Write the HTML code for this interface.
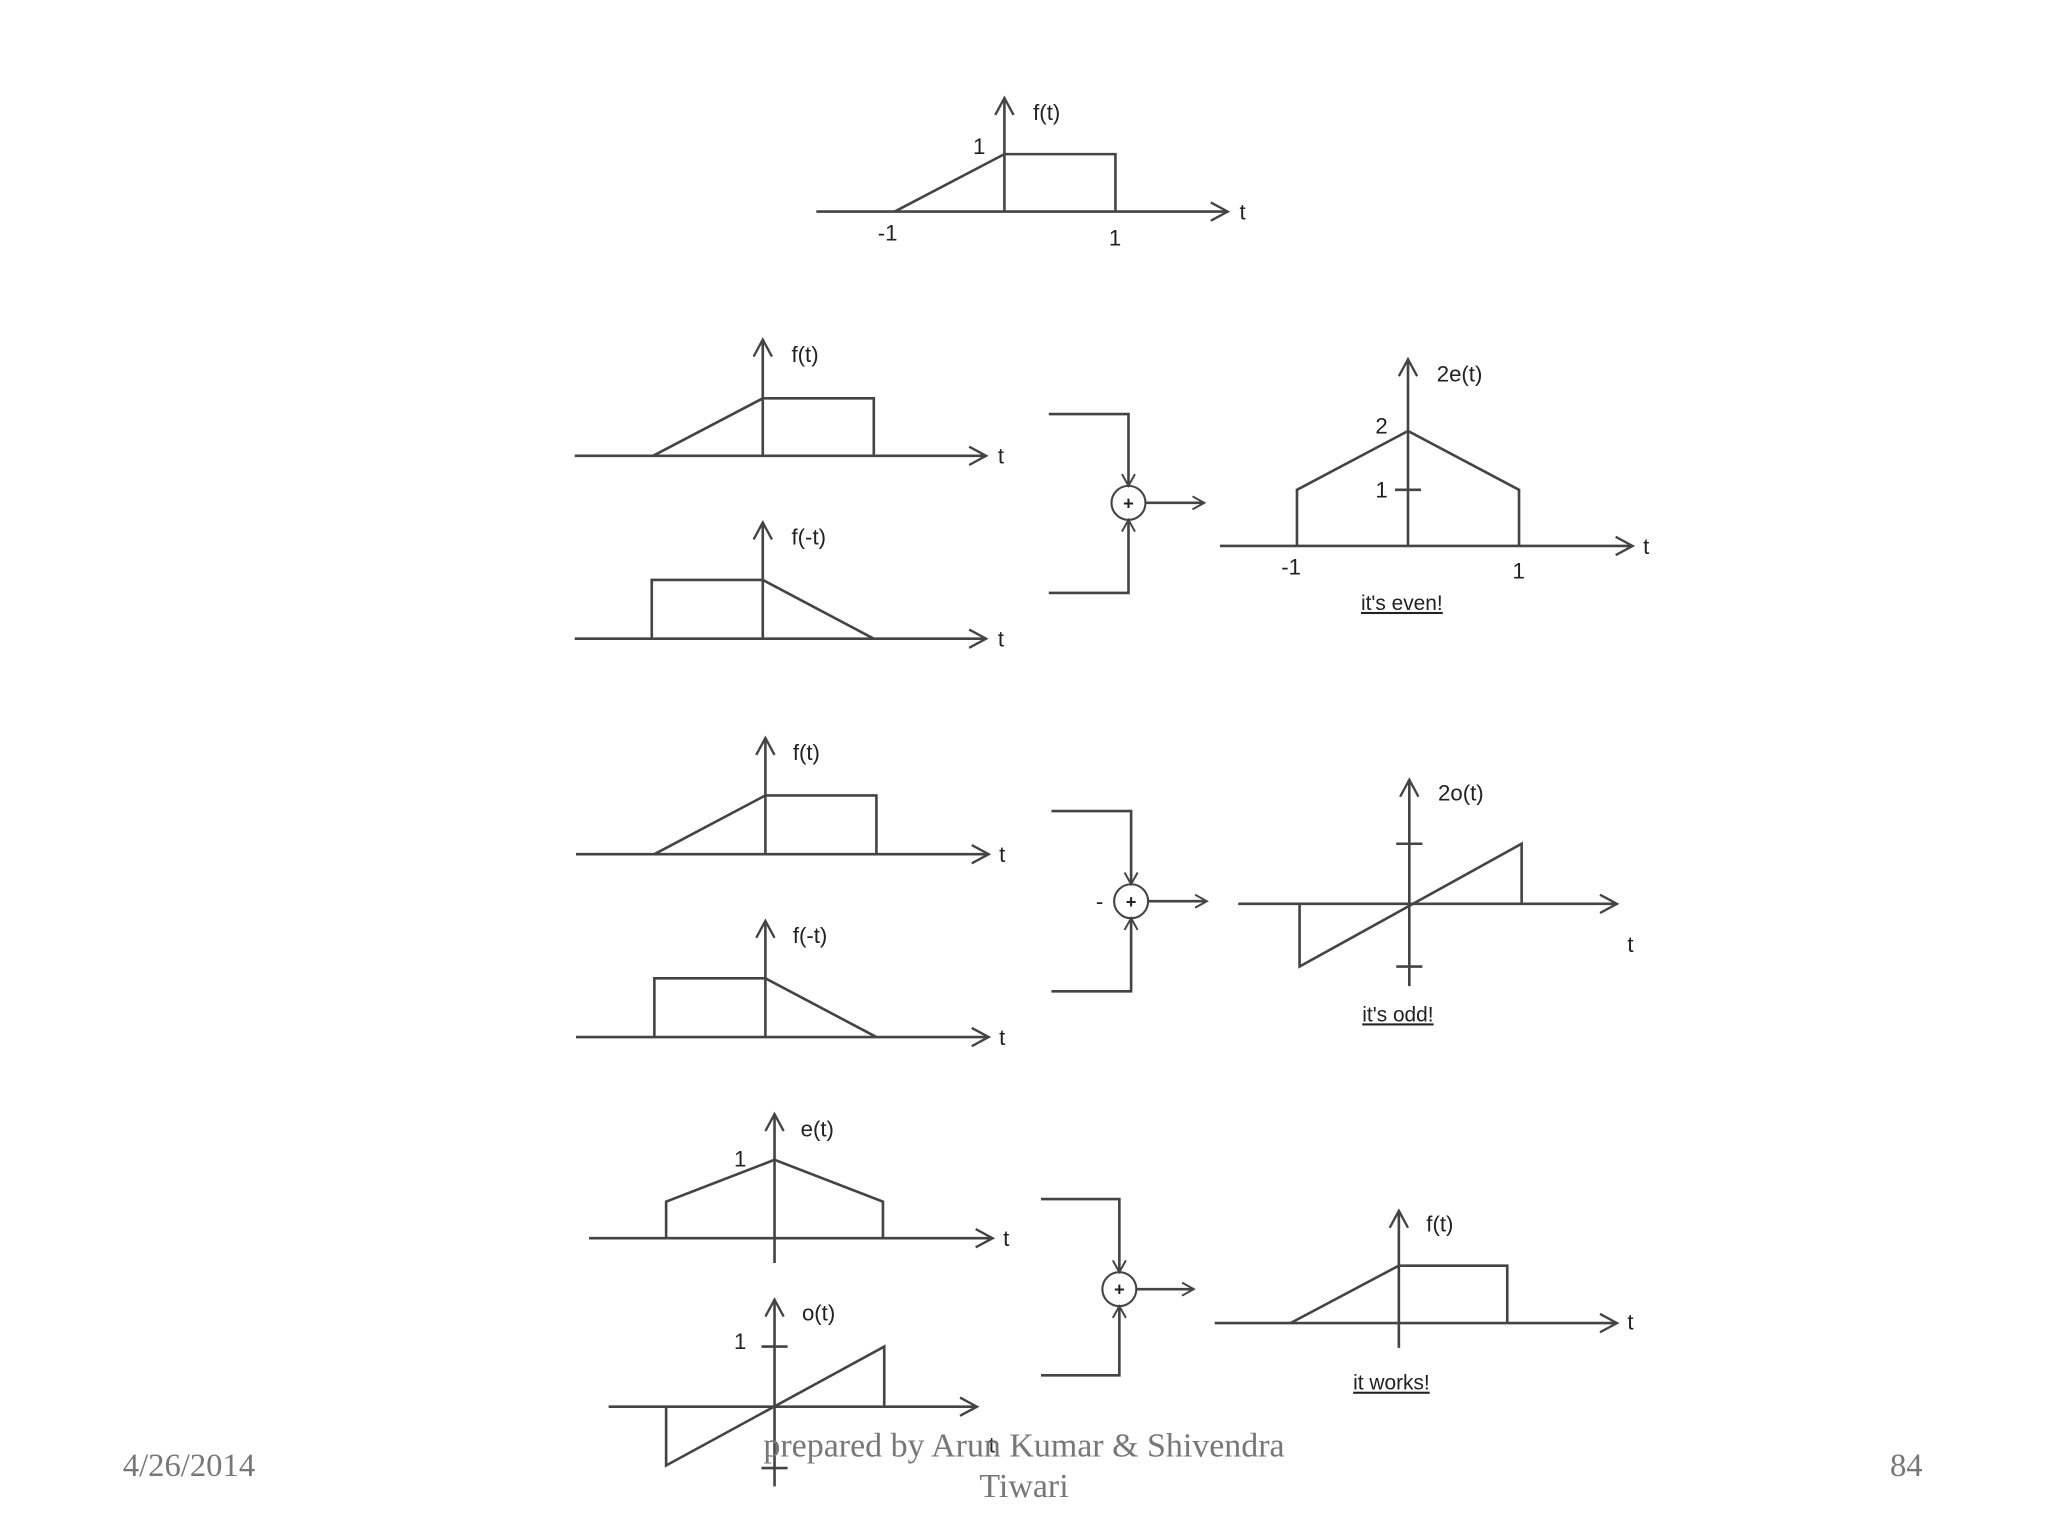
<!DOCTYPE html>
<html><head><meta charset="utf-8"><style>
html,body{margin:0;padding:0;background:#fff;}
svg{display:block;}
</style></head><body>
<svg width="2048" height="1536" viewBox="0 0 1568 1176" xmlns="http://www.w3.org/2000/svg">
<defs>
<marker id="a" markerWidth="16" markerHeight="16" refX="14" refY="8" orient="auto" markerUnits="userSpaceOnUse">
<path d="M1,1 L14,8 L1,15" fill="none" stroke="#444" stroke-width="1.8"/>
</marker>
<marker id="s" markerWidth="12" markerHeight="12" refX="10" refY="6" orient="auto" markerUnits="userSpaceOnUse">
<path d="M1,1 L10,6 L1,11" fill="none" stroke="#444" stroke-width="1.5"/>
</marker>
</defs>
<g fill="none" stroke="#444" stroke-width="2">
<line x1="625" y1="162" x2="940" y2="162" marker-end="url(#a)"/>
<line x1="769" y1="162" x2="769" y2="75" marker-end="url(#a)"/>
<polyline points="685,162 769,118 854,118 854,162"/>
<line x1="440" y1="349" x2="755" y2="349" marker-end="url(#a)"/>
<line x1="584" y1="349" x2="584" y2="260" marker-end="url(#a)"/>
<polyline points="500,349 584,305 669,305 669,349"/>
<line x1="440" y1="489" x2="755" y2="489" marker-end="url(#a)"/>
<line x1="584" y1="489" x2="584" y2="400" marker-end="url(#a)"/>
<polyline points="499,489 499,444 584,444 669,489"/>
<polyline points="803,317 864,317 864,372" marker-end="url(#s)"/>
<polyline points="803,454 864,454 864,398" marker-end="url(#s)"/>
<circle cx="864" cy="385" r="13" stroke-width="1.6"/>
<line x1="877" y1="385" x2="922" y2="385" marker-end="url(#s)"/>
<line x1="934" y1="418" x2="1250" y2="418" marker-end="url(#a)"/>
<line x1="1078" y1="418" x2="1078" y2="275" marker-end="url(#a)"/>
<polyline points="993,418 993,375 1078,330 1163,375 1163,418"/>
<line x1="1068" y1="375" x2="1088" y2="375"/>
<line x1="441" y1="654" x2="757" y2="654" marker-end="url(#a)"/>
<line x1="586" y1="654" x2="586" y2="565" marker-end="url(#a)"/>
<polyline points="501,654 586,609 671,609 671,654"/>
<line x1="441" y1="794" x2="757" y2="794" marker-end="url(#a)"/>
<line x1="586" y1="794" x2="586" y2="705" marker-end="url(#a)"/>
<polyline points="501,794 501,749 586,749 671,794"/>
<polyline points="805,621 866,621 866,677" marker-end="url(#s)"/>
<polyline points="805,759 866,759 866,703" marker-end="url(#s)"/>
<circle cx="866" cy="690" r="13" stroke-width="1.6"/>
<line x1="879" y1="690" x2="924" y2="690" marker-end="url(#s)"/>
<line x1="948" y1="692" x2="1238" y2="692" marker-end="url(#a)"/>
<line x1="1079" y1="755" x2="1079" y2="597" marker-end="url(#a)"/>
<polyline points="995,692 995,740 1165,646 1165,692"/>
<line x1="1069" y1="646" x2="1089" y2="646"/>
<line x1="1069" y1="740" x2="1089" y2="740"/>
<line x1="451" y1="948" x2="760" y2="948" marker-end="url(#a)"/>
<line x1="593" y1="967" x2="593" y2="853" marker-end="url(#a)"/>
<polyline points="510,948 510,920 593,888 676,920 676,948"/>
<line x1="466" y1="1077" x2="748" y2="1077" marker-end="url(#a)"/>
<line x1="593" y1="1138" x2="593" y2="995" marker-end="url(#a)"/>
<polyline points="510,1077 510,1122 677,1031 677,1077"/>
<line x1="583" y1="1031" x2="603" y2="1031"/>
<line x1="583" y1="1124" x2="603" y2="1124"/>
<polyline points="797,918 857,918 857,974" marker-end="url(#s)"/>
<polyline points="797,1053 857,1053 857,1000" marker-end="url(#s)"/>
<circle cx="857" cy="987" r="13" stroke-width="1.6"/>
<line x1="870" y1="987" x2="914" y2="987" marker-end="url(#s)"/>
<line x1="930" y1="1013" x2="1238" y2="1013" marker-end="url(#a)"/>
<line x1="1071" y1="1032" x2="1071" y2="927" marker-end="url(#a)"/>
<polyline points="988,1013 1071,969 1154,969 1154,1013"/>
</g>
<g font-family="Liberation Sans, sans-serif" font-size="17" fill="#222">
<text x="791" y="92">f(t)</text><text x="745" y="118">1</text>
<text x="672" y="184">-1</text><text x="849" y="188">1</text><text x="949" y="168">t</text>
<text x="606" y="277">f(t)</text><text x="764" y="355">t</text>
<text x="606" y="417">f(-t)</text><text x="764" y="495">t</text>
<text x="1100" y="292">2e(t)</text><text x="1053" y="332">2</text><text x="1053" y="381">1</text>
<text x="981" y="440">-1</text><text x="1158" y="443">1</text><text x="1258" y="424">t</text>
<text x="1042" y="467" font-size="16" text-decoration="underline">it's even!</text>
<text x="607" y="582">f(t)</text><text x="765" y="660">t</text>
<text x="607" y="722">f(-t)</text><text x="765" y="800">t</text>
<text x="839" y="696">-</text>
<text x="1101" y="613">2o(t)</text><text x="1246" y="729">t</text>
<text x="1043" y="782" font-size="16" text-decoration="underline">it's odd!</text>
<text x="613" y="870">e(t)</text><text x="562" y="893">1</text><text x="768" y="954">t</text>
<text x="614" y="1011">o(t)</text><text x="562" y="1033">1</text>
<text x="1092" y="943">f(t)</text><text x="1246" y="1018">t</text>
<text x="1036" y="1064" font-size="16" text-decoration="underline">it works!</text>
<text x="757" y="1112">t</text>
</g>
<g font-family="Liberation Sans, sans-serif" font-size="14" font-weight="bold" fill="#222" text-anchor="middle">
<text x="864" y="390">+</text><text x="866" y="695">+</text><text x="857" y="992">+</text>
</g>
<g font-family="Liberation Serif, serif" font-size="25" fill="#777">
<text x="94" y="1130">4/26/2014</text>
<text x="784" y="1115" text-anchor="middle" font-size="26">prepared by Arun Kumar &amp; Shivendra</text>
<text x="784" y="1146" text-anchor="middle" font-size="26">Tiwari</text>
<text x="1447" y="1130">84</text>
</g>
</svg>
</body></html>
